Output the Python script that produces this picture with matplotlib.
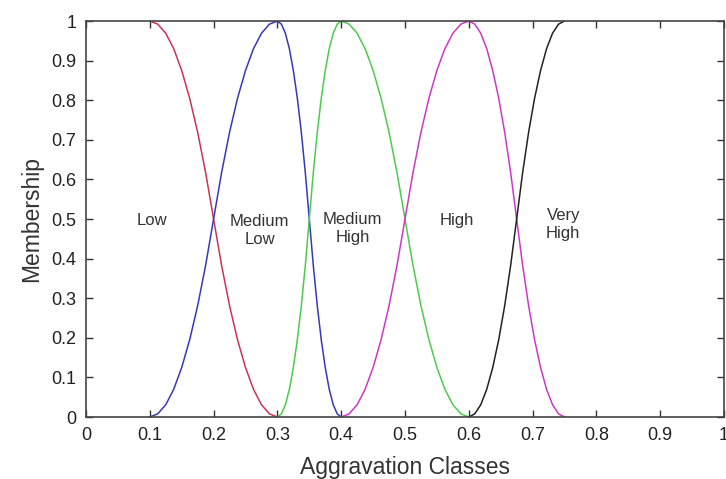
import matplotlib.pyplot as plt
import numpy as np

plt.rcParams['font.family'] = ['Liberation Sans', 'DejaVu Sans']

# S-shaped membership profile (17 equal steps across a rise)
s_profile = [0, 0.008, 0.031, 0.070, 0.125, 0.195, 0.281, 0.383, 0.5,
             0.617, 0.719, 0.805, 0.875, 0.930, 0.969, 0.992, 1]

# class breakpoints: start of rise, peak, end of fall (None = no side)
class_names = ["Low", "Medium\nLow", "Medium\nHigh", "High", "Very\nHigh"]
rise_start = [None, 0.1, 0.3, 0.4, 0.6]
peaks = [0.1, 0.3, 0.4, 0.6, 0.75]
fall_end = [0.3, 0.4, 0.6, 0.75, None]
colors = ['#cc3355', '#3838bb', '#4ccc4c', '#cc38cc', '#222222']

# label positions
label_x = [0.103, 0.272, 0.418, 0.581, 0.748]
label_y = [0.495, 0.47, 0.475, 0.497, 0.485]

ticks = [0, 0.1, 0.2, 0.3, 0.4, 0.5, 0.6, 0.7, 0.8, 0.9, 1]
tick_labels = ["0", "0.1", "0.2", "0.3", "0.4", "0.5", "0.6", "0.7", "0.8", "0.9", "1"]

fig = plt.figure(figsize=(7.26, 4.79), dpi=100)
ax = fig.add_axes([86 / 726, 62 / 479, 638 / 726, 396 / 479])

frac = np.linspace(0, 1, len(s_profile))
prof = np.array(s_profile)
for a, b, c, col in zip(rise_start, peaks, fall_end, colors):
    xs, ys = [], []
    if a is not None:
        xs += list(a + frac * (b - a))
        ys += list(prof)
    if c is not None:
        xs += list(b + frac * (c - b))
        ys += list(1 - prof)
    ax.plot(xs, ys, color=col, lw=1.1)

for name, lx, ly in zip(class_names, label_x, label_y):
    ax.text(lx, ly, name, ha='center', va='center', fontsize=12,
            color='#333333', linespacing=1.25)

ax.set_xlim(0, 1)
ax.set_ylim(0, 1)
ax.set_xticks(ticks)
ax.set_xticklabels(tick_labels)
ax.set_yticks(ticks)
ax.set_yticklabels(tick_labels)
ax.tick_params(direction='in', top=True, right=True, length=5, width=1,
               labelsize=13, colors='#333333', labelcolor='#222222', pad=7)
for s in ax.spines.values():
    s.set_color('#444444')
    s.set_linewidth(1.2)

ax.set_xlabel("Aggravation Classes", fontsize=16.5, color='#333333', labelpad=9)
ax.set_ylabel("Membership", fontsize=16.5, color='#333333', labelpad=6)

fig.savefig("out.png", dpi=100)
